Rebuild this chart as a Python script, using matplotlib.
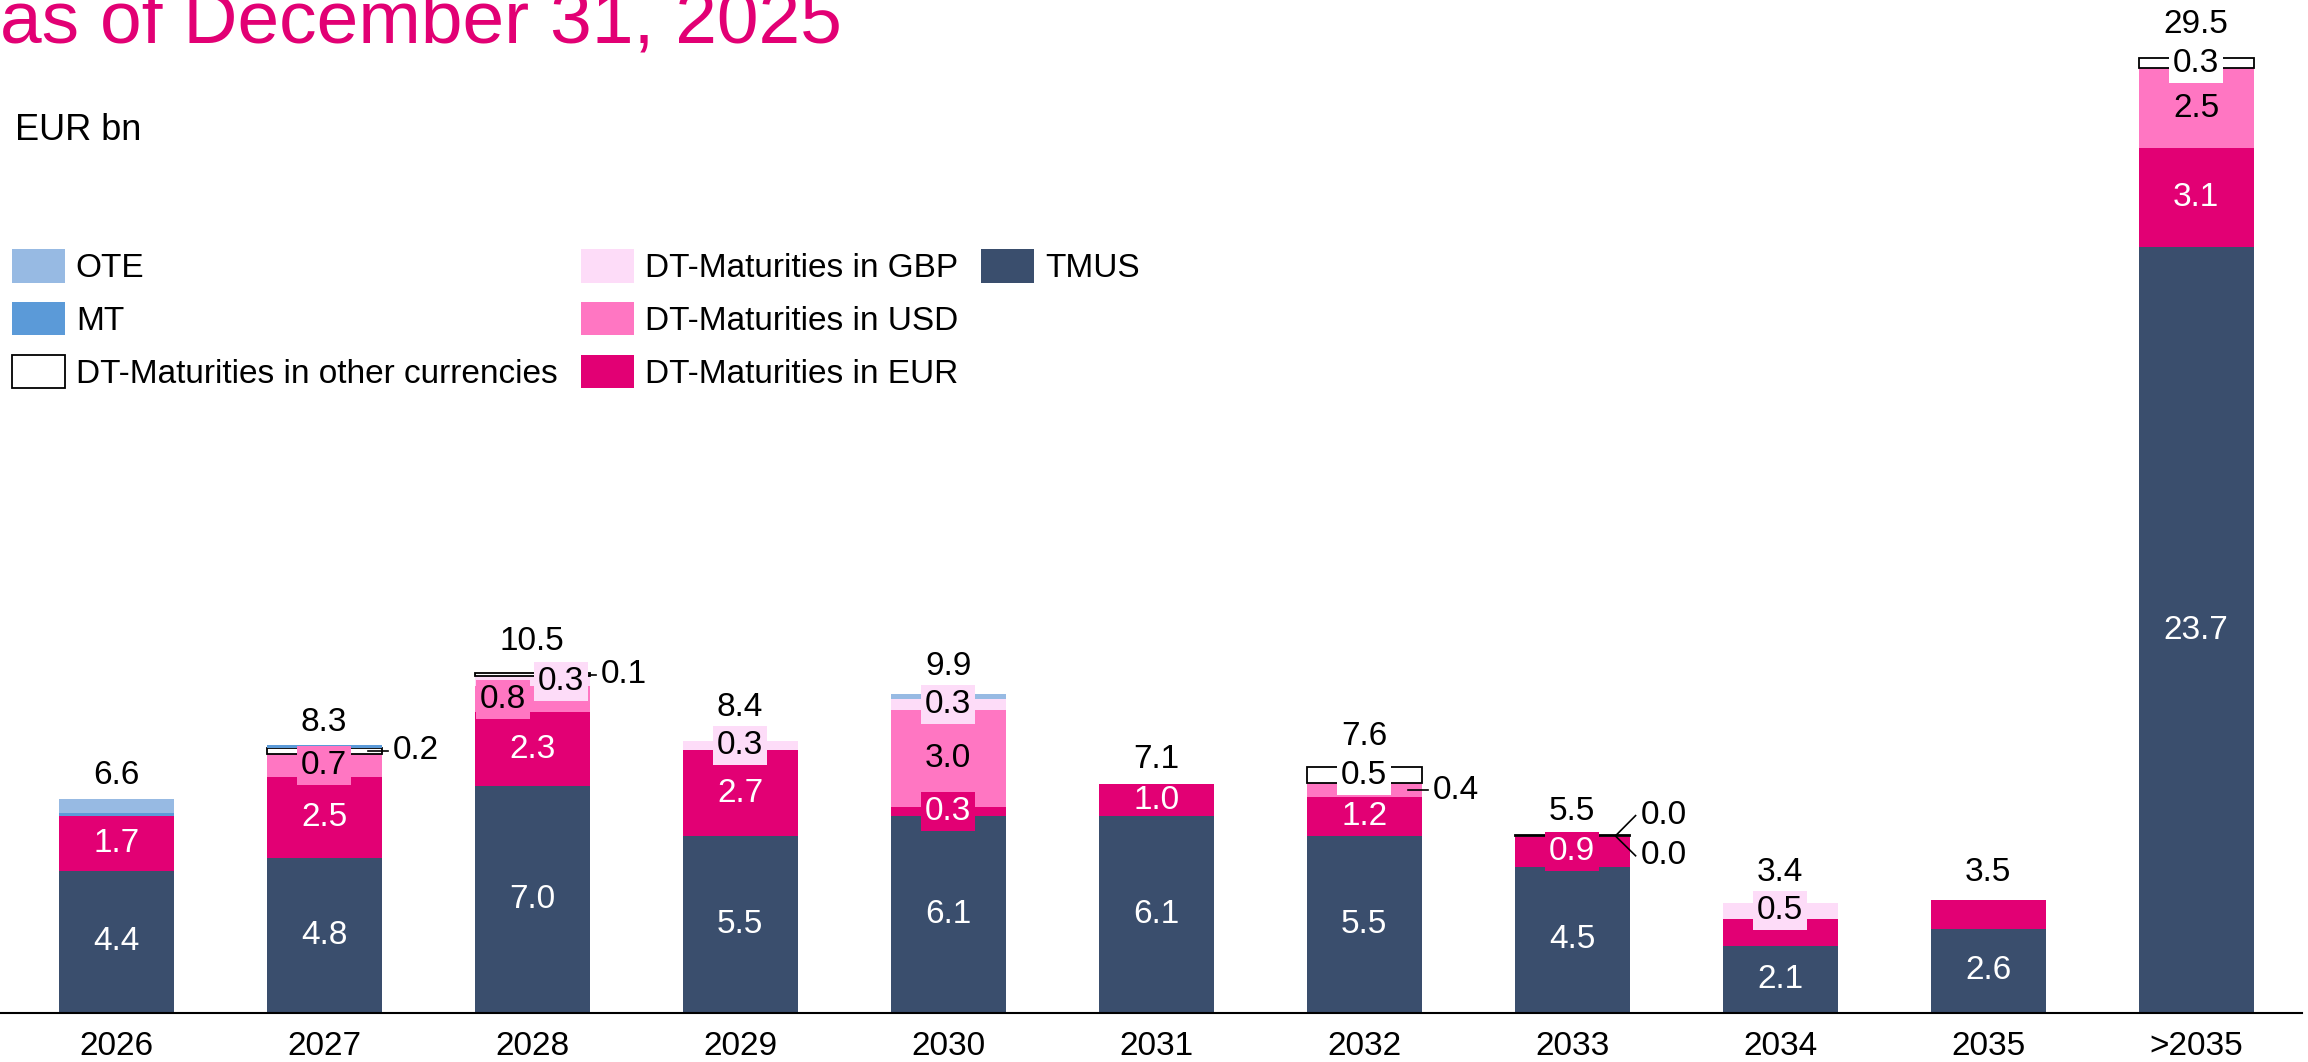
import matplotlib
matplotlib.use("Agg")
import matplotlib.pyplot as plt
from matplotlib.patches import Rectangle
import numpy as np

plt.rcParams['font.family'] = ['Liberation Sans', 'DejaVu Sans']

# data (EUR bn)
years = ['2026', '2027', '2028', '2029', '2030', '2031', '2032', '2033', '2034', '2035', '>2035']
tmus = [4.4, 4.8, 7.0, 5.46, 6.09, 6.08, 5.48, 4.52, 2.08, 2.6, 23.66]
dt_eur = [1.7, 2.5, 2.3, 2.66, 0.29, 1.0, 1.2, 0.93, 0.84, 0.9, 3.06]
dt_usd = [0, 0.7, 0.8, 0, 2.99, 0, 0.42, 0.02, 0, 0, 2.48]
dt_gbp = [0, 0, 0.3, 0.28, 0.34, 0, 0, 0, 0.47, 0, 0]
dt_other = [0, 0.2, 0.1, 0, 0, 0, 0.5, 0.03, 0, 0, 0.30]
mt = [0.08, 0.07, 0, 0, 0, 0, 0, 0, 0, 0, 0]
ote = [0.42, 0, 0, 0, 0.15, 0, 0, 0, 0, 0, 0]
totals = [6.6, 8.3, 10.5, 8.4, 9.9, 7.1, 7.6, 5.5, 3.4, 3.5, 29.5]

# stacking order, bottom to top
series = [
    ('tmus', 'TMUS', tmus, '#3A4E6D', 'none', 'white'),
    ('eur', 'DT-Maturities in EUR', dt_eur, '#E20074', 'none', 'white'),
    ('usd', 'DT-Maturities in USD', dt_usd, '#FF76C2', 'none', 'black'),
    ('gbp', 'DT-Maturities in GBP', dt_gbp, '#FDDCF8', 'none', 'black'),
    ('other', 'DT-Maturities in other currencies', dt_other, 'white', 'black', 'black'),
    ('mt', 'MT', mt, '#5B9AD8', 'none', 'black'),
    ('ote', 'OTE', ote, '#97BAE3', 'none', 'black'),
]

# labels that are not printed, labels moved beside the bar, labels shifted inside the bar
hidden = {(0, 'mt'), (0, 'ote'), (1, 'mt'), (4, 'ote'), (8, 'eur'), (9, 'eur')}
outside = {(1, 'other'): None, (2, 'other'): None, (6, 'usd'): None,
           (7, 'usd'): 4.86, (7, 'other'): 6.1}
shift = {(2, 'usd'): -0.14, (2, 'gbp'): 0.14}
# gap between bar top and total label, px
total_pad = [15, 14, 23, 25, 19, 16, 22, 15, 22, 19, 25]

magenta = '#E20074'
fs = 24

fig = plt.figure(figsize=(23.08, 10.62), dpi=100)
ax = fig.add_axes([0, 0.0461, 0.9975, 0.9539])

x = np.arange(len(years))
width = 0.553
bottom = np.zeros(len(years))
handles = {}
for key, name, vals, color, edge, tcol in series:
    vals = np.array(vals, dtype=float)
    lws = [1.3 if (edge != 'none' and v > 0) else 0 for v in vals]
    ax.bar(x, vals, width, bottom=bottom, color=color, edgecolor=edge,
           linewidth=lws, label=name, zorder=2)
    handles[key] = Rectangle((0, 0), 1, 1, facecolor=color, edgecolor=edge,
                             linewidth=1.3 if edge != 'none' else 0, label=name)
    for i, v in enumerate(vals):
        if v <= 0 or (i, key) in hidden:
            continue
        yc = bottom[i] + v / 2
        txt = f"{v:.1f}"
        if (i, key) in outside:
            ty = outside[(i, key)]
            if ty is None:
                ty = yc
            ax.plot([i + 0.21, i + 0.305], [yc, ty], color='black', lw=1.2, zorder=3)
            ax.text(i + 0.33, ty, txt, ha='left', va='center', fontsize=fs,
                    color='black', zorder=5)
        else:
            # small segments get a label box in the segment colour
            box = None
            if v < 0.95:
                box = dict(boxstyle='square,pad=0.12', facecolor=color, edgecolor='none')
            ax.text(i + shift.get((i, key), 0), yc, txt, ha='center', va='center',
                    fontsize=fs, color=tcol, zorder=4, bbox=box)
    bottom = bottom + vals

for i, t in enumerate(totals):
    ax.annotate(f"{t:.1f}", xy=(i, bottom[i]), xytext=(0, total_pad[i] * 0.72),
                textcoords='offset points', ha='center', va='baseline',
                fontsize=fs, color='black')

ax.set_xlim(-0.558, 10.51)
ax.set_ylim(0, 31.3)
ax.set_xticks(x, years)
ax.tick_params(axis='x', length=0, pad=13, labelsize=fs)
ax.set_yticks([])
for s in ['top', 'right', 'left']:
    ax.spines[s].set_visible(False)
ax.spines['bottom'].set_linewidth(1.5)
ax.spines['bottom'].set_zorder(6)

# legend: three columns (3, 3, 1); two blank entries fill the last column
order = ['ote', 'mt', 'other', 'gbp', 'usd', 'eur', 'tmus']
leg_handles = [handles[k] for k in order]
leg_labels = [h.get_label() for h in leg_handles]
blank = Rectangle((0, 0), 1, 1, visible=False)
leg_handles += [blank, blank]
leg_labels += ['', '']
ax.legend(leg_handles, leg_labels, ncol=3, loc='upper left',
          bbox_to_anchor=(0.0051, 0.7654), bbox_transform=fig.transFigure,
          frameon=False, borderpad=0, borderaxespad=0, fontsize=fs,
          handlelength=1.59, handleheight=1.17, handletextpad=0.33,
          columnspacing=0.69, labelspacing=0.53)

fig.text(0.0, 0.9598, 'as of December 31, 2025', color=magenta, fontsize=54,
         ha='left', va='baseline')
fig.text(0.0065, 0.868, 'EUR bn', fontsize=26, ha='left', va='baseline')

fig.savefig('out.png', dpi=100)
